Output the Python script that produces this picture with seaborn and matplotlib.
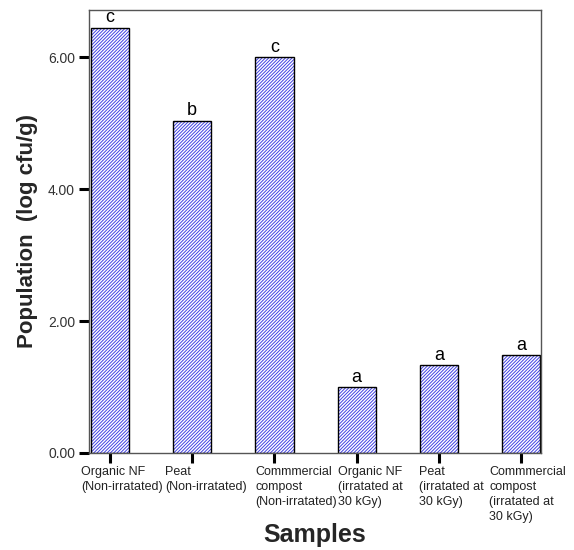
"""
Bar chart: bacterial population in organic and commercial substrates,
non-irradiated vs irradiated at 30 kGy.
"""

import matplotlib
matplotlib.use("Agg")
import matplotlib.pyplot as plt
import pandas as pd
import seaborn as sns


SAMPLES = [
    "Organic NF\n(Non-irratated)",
    "Peat\n(Non-irratated)",
    "Commmercial\ncompost\n(Non-irratated)",
    "Organic NF\n(irratated at\n30 kGy)",
    "Peat\n(irratated at\n30 kGy)",
    "Commmercial\ncompost\n(irratated at\n30 kGy)",
]
POPULATION = [6.45, 5.04, 6.00, 1.00, 1.33, 1.48]
GROUPS = ["c", "b", "c", "a", "a", "a"]
Y_TICKS = [0, 2, 4, 6]

# horizontal shift (px) of each wrapped tick label, as in the original
LABEL_SHIFT = [-29, -27, -19, -19, -20, -32]

HATCH_BLUE = "#4040e4"


def main() -> None:
    sns.set_theme(style="white")
    plt.rcParams["font.family"] = ["Liberation Sans", "DejaVu Sans"]
    plt.rcParams["hatch.linewidth"] = 0.7

    df = pd.DataFrame({"sample": SAMPLES, "population": POPULATION})

    fig = plt.figure(figsize=(5.74, 5.5), dpi=100)
    ax = fig.add_axes([0.155, 0.1764, 0.7875, 0.8054])

    # hatched fill
    sns.barplot(
        data=df, x="sample", y="population", ax=ax, errorbar=None,
        width=0.465, color="white", edgecolor=HATCH_BLUE, linewidth=0,
        hatch="//////////", saturation=1,
    )
    # black outline
    sns.barplot(
        data=df, x="sample", y="population", ax=ax, errorbar=None,
        width=0.465, fill=False, color="black", linewidth=1.0,
    )

    for i, (val, grp) in enumerate(zip(POPULATION, GROUPS)):
        ax.annotate(grp, (i, val), xytext=(0, 4), textcoords="offset points",
                    ha="center", va="baseline", fontsize=13, color="black")

    ax.set_xlim(-0.255, 5.24)
    ax.set_ylim(0, 6.72)
    ax.set_yticks(Y_TICKS)
    ax.set_yticklabels([f"{t:.2f}" for t in Y_TICKS], fontsize=10, color="#333333")
    ax.set_xticks(range(len(SAMPLES)))
    ax.set_xticklabels([""] * len(SAMPLES))

    # wrapped category labels, left aligned under each tick
    for i, (lab, dx) in enumerate(zip(SAMPLES, LABEL_SHIFT)):
        ax.annotate(lab, (i, 0), xycoords=("data", "axes fraction"),
                    xytext=(dx, -13), textcoords="offset pixels",
                    ha="left", va="top", fontsize=9, color="#222222",
                    linespacing=1.35, annotation_clip=False)

    ax.tick_params(axis="both", which="major", direction="out", length=7,
                   width=2.2, color="black", bottom=True, left=True)
    ax.tick_params(axis="y", pad=3)

    for side in ["top", "right", "left", "bottom"]:
        ax.spines[side].set_color("#555555")
        ax.spines[side].set_linewidth(1.0)

    ax.set_xlabel("Samples", fontsize=18, fontweight="bold", va="center")
    ax.xaxis.set_label_coords(0.5, -0.185)
    ax.set_ylabel("Population  (log cfu/g)", fontsize=16, fontweight="bold",
                  va="center")
    ax.yaxis.set_label_coords(-0.137, 0.5)

    fig.savefig("out.png", dpi=100)
    plt.close(fig)


if __name__ == "__main__":
    main()
